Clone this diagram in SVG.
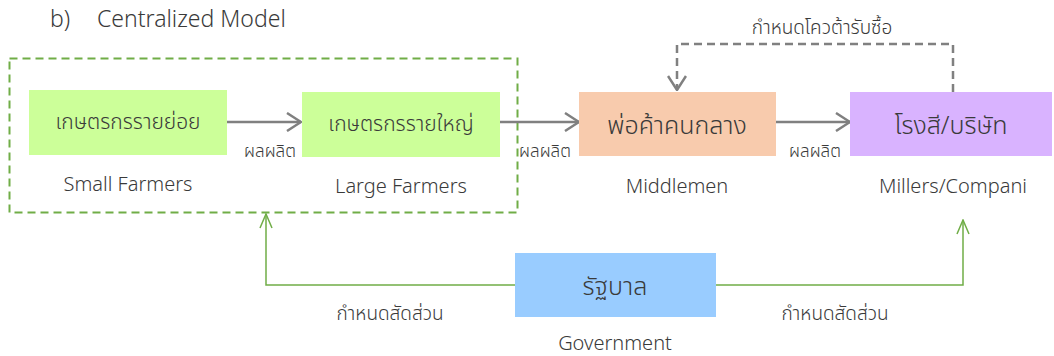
<svg xmlns="http://www.w3.org/2000/svg" width="1054" height="356" viewBox="0 0 1054 356">
<style>
text{font-family:"Noto Sans","Noto Sans Thai","DejaVu Sans",sans-serif;fill:#3a3a3a;font-weight:300;}
.en{font-size:20px;}
.th{font-size:21px;}
.thb{font-size:25px;}
.lbl{font-size:17px;}
.lbl2{font-size:19px;}
.title{font-size:23px;}
.flow{stroke:#808080;stroke-width:2.5;fill:none;marker-end:url(#ga);}
.quota{stroke:#808080;stroke-width:2.5;fill:none;stroke-dasharray:8,5;marker-end:url(#ga);}
.gov{stroke:#70AD47;stroke-width:1.5;fill:none;marker-end:url(#gr);}
</style>
<defs>
<marker id="ga" viewBox="0 0 16 20" refX="15" refY="10" markerWidth="16" markerHeight="20" markerUnits="userSpaceOnUse" orient="auto"><path d="M1,1 L15,10 L1,19" fill="none" stroke="#808080" stroke-width="2.5"/></marker>
<marker id="gr" viewBox="0 0 16 14" refX="15" refY="7" markerWidth="16" markerHeight="14" markerUnits="userSpaceOnUse" orient="auto"><path d="M1,1 L15,7 L1,13" fill="none" stroke="#70AD47" stroke-width="1.5"/></marker>
</defs>
<rect width="1054" height="356" fill="#fff"/>
<text class="title" x="50" y="27">b)</text>
<text class="title" x="97" y="27">Centralized Model</text>
<rect id="group" x="9.5" y="58.5" width="508" height="154" fill="none" stroke="#70AD47" stroke-width="2" stroke-dasharray="8,5"/>
<g id="connectors">
<line class="flow" x1="227" y1="122" x2="301" y2="122"/>
<line class="flow" x1="500" y1="122" x2="579" y2="122"/>
<line class="flow" x1="776" y1="122" x2="850" y2="122"/>
<polyline class="quota" points="953,92 953,44 677,44 677,90"/>
<polyline class="gov" points="515,285 266,285 266,214"/>
<polyline class="gov" points="716,285 963,285 963,220"/>
<text class="lbl" x="270" y="157" text-anchor="middle">ผลผลิต</text>
<text class="lbl" x="545" y="157" text-anchor="middle">ผลผลิต</text>
<text class="lbl" x="815" y="157" text-anchor="middle">ผลผลิต</text>
<text class="lbl2" x="822" y="34" text-anchor="middle">กำหนดโควต้ารับซื้อ</text>
<text class="lbl2" x="390" y="320" text-anchor="middle">กำหนดสัดส่วน</text>
<text class="lbl2" x="835" y="320" text-anchor="middle">กำหนดสัดส่วน</text>
</g>
<g id="small">
<rect x="29" y="90" width="198" height="65" fill="#CCFF99"/>
<text class="th" x="128" y="129" text-anchor="middle">เกษตรกรรายย่อย</text>
<text class="en" x="128" y="191" text-anchor="middle">Small Farmers</text>
</g>
<g id="large">
<rect x="302" y="92" width="198" height="65" fill="#CCFF99"/>
<text class="th" x="401" y="131" text-anchor="middle">เกษตรกรรายใหญ่</text>
<text class="en" x="401" y="193" text-anchor="middle">Large Farmers</text>
</g>
<g id="middlemen">
<rect x="579" y="92" width="197" height="64" fill="#F8CBAD"/>
<text class="thb" x="677" y="134" text-anchor="middle">พ่อค้าคนกลาง</text>
<text class="en" x="677" y="193" text-anchor="middle">Middlemen</text>
</g>
<g id="millers">
<rect x="850" y="92" width="202" height="64" fill="#D9B3FF"/>
<text class="thb" x="951" y="134" text-anchor="middle">โรงสี/บริษัท</text>
<text class="en" x="953" y="193" text-anchor="middle">Millers/Compani</text>
</g>
<g id="government">
<rect x="515" y="253" width="201" height="64" fill="#99CCFF"/>
<text class="thb" x="615" y="295" text-anchor="middle">รัฐบาล</text>
<text class="en" x="615" y="350" text-anchor="middle">Government</text>
</g>
</svg>
